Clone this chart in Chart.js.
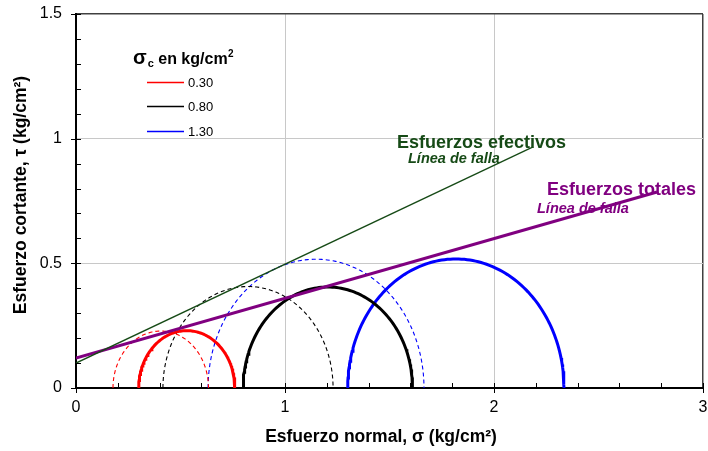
<!DOCTYPE html>
<html lang="es">
<head>
<meta charset="UTF-8">
<title>Círculos de Mohr</title>
<script src="https://cdn.jsdelivr.net/npm/chart.js@4.4.1/dist/chart.umd.min.js"></script>
<style>
  body { margin: 0; background: #fff; }
  #wrap { width: 708px; height: 451px; }
</style>
</head>
<body>
<div id="wrap"><canvas id="mohrChart"></canvas></div>
<script>
// esfuerzo de confinamiento (kg/cm2) y color de cada ensayo
const sigmaC = ['0.30', '0.80', '1.30'];
const colores = ['#ff0000', '#000000', '#0000ff'];

// esfuerzos totales: sigma3 y sigma1 (kg/cm2)
const sig3Tot = [0.30, 0.80, 1.30];
const sig1Tot = [0.76, 1.61, 2.335];

// esfuerzos efectivos: sigma3' y sigma1'
const sig3Ef = [0.177, 0.416, 0.632];
const sig1Ef = [0.634, 1.23, 1.665];

// lineas de falla (sigma, tau)
const fallaTotX = [0, 2.78];
const fallaTotY = [0.12, 0.786];
const fallaEfX = [0, 2.187];
const fallaEfY = [0.10, 0.967];

const verde = '#164a16';
const morado = '#800080';
const fuente = '"Liberation Sans", Arial';

// semicirculo de Mohr a partir de sigma3 y sigma1
function circulo(s3, s1) {
    const c = (s1 + s3) / 2, r = (s1 - s3) / 2;
    const pts = [];
    for (let i = 0; i <= 120; i++) {
        const a = Math.PI * i / 120;
        pts.push({x: c - r * Math.cos(a), y: r * Math.sin(a)});
    }
    return pts;
}

function linea(xs, ys) {
    return xs.map((x, i) => ({x: x, y: ys[i]}));
}

const datasets = [
    {label: 'Efectivos', data: linea(fallaEfX, fallaEfY), borderColor: verde, borderWidth: 1.3},
    {label: 'Totales', data: linea(fallaTotX, fallaTotY), borderColor: morado, borderWidth: 3}
];
sigmaC.forEach((s, i) => {
    datasets.push({label: s, data: circulo(sig3Tot[i], sig1Tot[i]), borderColor: colores[i], borderWidth: 3});
});
sigmaC.forEach((s, i) => {
    datasets.push({label: s + "'", data: circulo(sig3Ef[i], sig1Ef[i]), borderColor: colores[i], borderWidth: 1.1, borderDash: [4, 3]});
});
datasets.forEach(d => { d.showLine = true; d.pointRadius = 0; d.fill = false; });

// marcas de los ejes (principales y secundarias) y titulos de ejes
const marcas = {
    id: 'marcas',
    afterDraw(chart) {
        const {ctx, chartArea: a, scales: {x, y}} = chart;
        ctx.save();
        ctx.strokeStyle = '#000';
        ctx.lineWidth = 1;
        ctx.beginPath();
        for (let i = 0; i <= 15; i++) {
            const px = Math.round(x.getPixelForValue(i * 0.2)) + 0.5;
            ctx.moveTo(px, a.bottom - 5);
            ctx.lineTo(px, i % 5 === 0 ? a.bottom + 5 : a.bottom);
        }
        for (let i = 0; i <= 15; i++) {
            const py = Math.round(y.getPixelForValue(i * 0.1)) + 0.5;
            ctx.moveTo(i % 5 === 0 ? a.left - 5 : a.left, py);
            ctx.lineTo(a.left + 5, py);
        }
        ctx.stroke();

        ctx.fillStyle = '#000';
        ctx.font = 'bold 17.5px ' + fuente;
        ctx.textAlign = 'center';
        ctx.textBaseline = 'middle';
        ctx.fillText('Esfuerzo normal, σ (kg/cm²)', 381, 437);
        ctx.translate(21, 195);
        ctx.rotate(-Math.PI / 2);
        ctx.fillText('Esfuerzo cortante, τ (kg/cm²)', 0, 0);
        ctx.restore();
    }
};

// leyenda y textos dentro del grafico
const textos = {
    id: 'textos',
    afterDatasetsDraw(chart) {
        const ctx = chart.ctx;
        ctx.save();
        ctx.textBaseline = 'alphabetic';
        ctx.fillStyle = '#000';
        // titulo de la leyenda
        let x = 133;
        ctx.font = 'bold 20px ' + fuente;
        ctx.fillText('σ', x, 64);
        x += ctx.measureText('σ').width + 1;
        ctx.font = 'bold 11px ' + fuente;
        ctx.fillText('c', x, 67);
        x += ctx.measureText('c').width;
        ctx.font = 'bold 16px ' + fuente;
        ctx.fillText(' en kg/cm', x, 64);
        x += ctx.measureText(' en kg/cm').width + 0.5;
        ctx.font = 'bold 10px ' + fuente;
        ctx.fillText('2', x, 57);

        // entradas
        const filas = [82, 106, 131];
        ctx.font = '13px ' + fuente;
        ctx.textBaseline = 'middle';
        sigmaC.forEach((s, i) => {
            ctx.strokeStyle = colores[i];
            ctx.lineWidth = 1.5;
            ctx.beginPath();
            ctx.moveTo(147, filas[i] + 0.5);
            ctx.lineTo(184, filas[i] + 0.5);
            ctx.stroke();
            ctx.fillStyle = '#000';
            ctx.fillText(s, 188, filas[i] + 1);
        });

        // rotulos de las lineas de falla
        ctx.textBaseline = 'alphabetic';
        ctx.fillStyle = verde;
        ctx.font = 'bold 18px ' + fuente;
        ctx.fillText('Esfuerzos efectivos', 397, 148);
        ctx.font = 'italic bold 14.5px ' + fuente;
        ctx.fillText('Línea de falla', 408, 163);
        ctx.fillStyle = morado;
        ctx.font = 'bold 18px ' + fuente;
        ctx.fillText('Esfuerzos totales', 547, 195);
        ctx.font = 'italic bold 14.5px ' + fuente;
        ctx.fillText('Línea de falla', 537, 213);
        ctx.restore();
    }
};

const gridColor = (c) => c.tick && c.tick.value === c.scale.max ? '#404040' : '#c8c8c8';
const gridWidth = (c) => c.tick && c.tick.value === c.scale.max ? 1.5 : 1;

// tamano fijo de los ejes, sin relleno extra por las etiquetas
function fijar(s, ancho, alto) {
    if (ancho) s.width = ancho;
    if (alto) s.height = alto;
    s.paddingLeft = s.paddingRight = s.paddingTop = s.paddingBottom = 0;
}

new Chart(document.getElementById('mohrChart'), {
    type: 'scatter',
    data: {datasets: datasets},
    options: {
        responsive: true,
        maintainAspectRatio: false,
        animation: false,
        layout: {padding: {top: 14, right: 5, left: 0, bottom: 0}},
        plugins: {legend: {display: false}, tooltip: {enabled: false}},
        scales: {
            x: {
                type: 'linear', min: 0, max: 3,
                afterFit: s => fijar(s, 0, 63),
                ticks: {stepSize: 1, padding: 10, color: '#000', font: {size: 16, family: fuente},
                        callback: v => String(v)},
                grid: {drawTicks: false, color: gridColor, lineWidth: gridWidth},
                border: {color: '#000', width: 2}
            },
            y: {
                type: 'linear', min: 0, max: 1.5,
                afterFit: s => fijar(s, 76, 0),
                ticks: {stepSize: 0.5, padding: 14, color: '#000', font: {size: 16, family: fuente},
                        callback: v => String(v)},
                grid: {drawTicks: false, color: gridColor, lineWidth: gridWidth},
                border: {color: '#000', width: 2}
            }
        }
    },
    plugins: [marcas, textos]
});
</script>
</body>
</html>
